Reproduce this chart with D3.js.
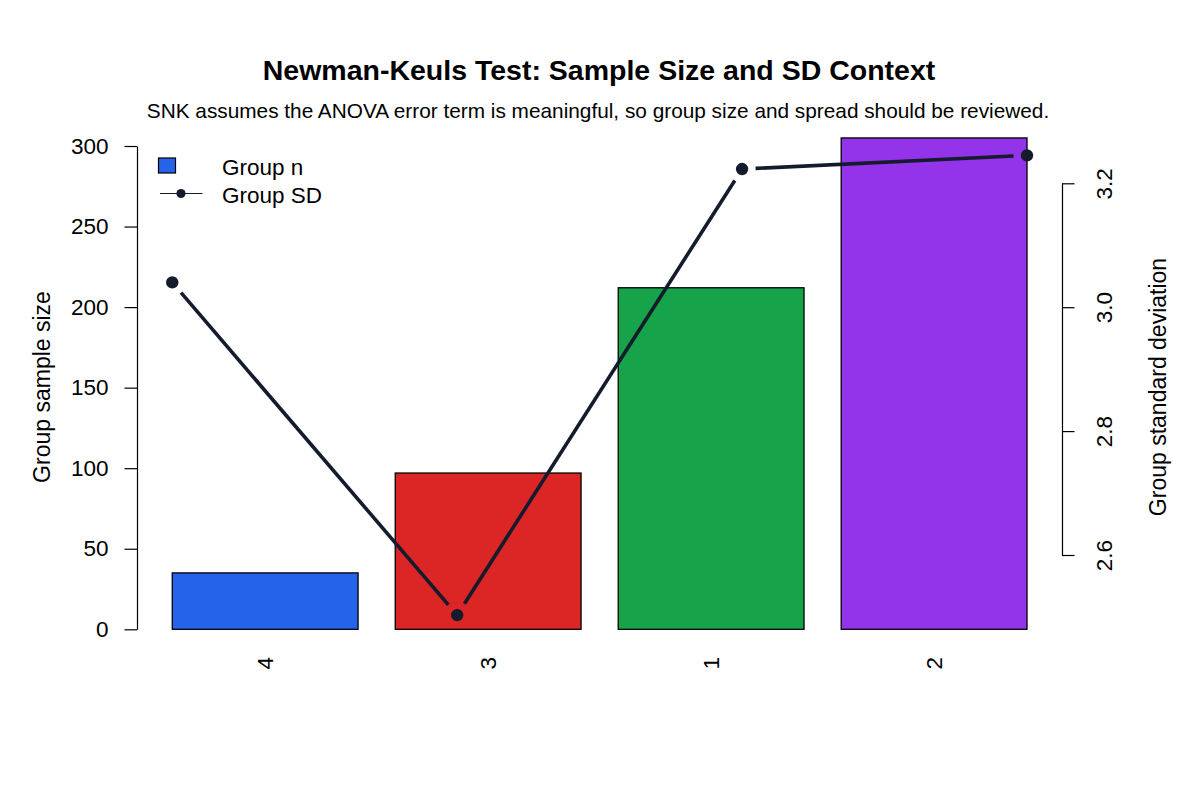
<!DOCTYPE html>
<html>
<head>
<meta charset="utf-8">
<script src="https://cdn.jsdelivr.net/npm/d3@7"></script>
<style>
  body { margin: 0; background: #fff; }
  text { font-family: "Liberation Sans", Arial, sans-serif; fill: #000; }
</style>
</head>
<body>
<div id="chart"></div>
<script>
// chart data, in plotting order
const groups = ["4", "3", "1", "2"];
const groupN = [35, 97, 212, 305];
const groupSD = [3.04, 2.503, 3.223, 3.245];
const barColors = ["#2563eb", "#dc2626", "#16a34a", "#9333ea"];
const nTicks = [0, 50, 100, 150, 200, 250, 300];
const sdTicks = [2.6, 2.8, 3.0, 3.2];

const width = 1200, height = 800;
const lineColor = "#141b2d";

const svg = d3.select("#chart").append("svg")
    .attr("width", width)
    .attr("height", height);

// barplot units: bar width 1, space 0.2
const xBar = d3.scaleLinear().domain([0, 4.8]).range([135.1, 1027]);
const yN = d3.scaleLinear().domain([0, 300]).range([629.3, 146]);
const ySD = d3.scaleLinear().domain([2.6, 3.2]).range([555, 183.3]);
// the SD line spans the full extent of the bars
const xLine = d3.scalePoint().domain(groups).range([xBar(0.2), xBar(4.8)]);
const barCenter = i => xBar(0.2 + 1.2 * i + 0.5);

// title and subtitle
svg.append("text")
    .attr("x", 599).attr("y", 80)
    .attr("text-anchor", "middle")
    .style("font-size", "28.5px").style("font-weight", "bold")
    .text("Newman-Keuls Test: Sample Size and SD Context");

svg.append("text")
    .attr("x", 598).attr("y", 118)
    .attr("text-anchor", "middle")
    .style("font-size", "20.8px")
    .text("SNK assumes the ANOVA error term is meaningful, so group size and spread should be reviewed.");

// bars
svg.append("g").selectAll("rect")
    .data(groupN)
    .join("rect")
    .attr("x", (d, i) => xBar(0.2 + 1.2 * i))
    .attr("width", xBar(1) - xBar(0))
    .attr("y", d => yN(d))
    .attr("height", d => yN(0) - yN(d))
    .attr("fill", (d, i) => barColors[i])
    .attr("stroke", "#000")
    .attr("stroke-width", 1.3);

// bar names, rotated
svg.append("g").selectAll("text")
    .data(groups)
    .join("text")
    .attr("transform", (d, i) => `translate(${barCenter(i) + 8},657) rotate(-90)`)
    .attr("text-anchor", "end")
    .style("font-size", "22.5px")
    .text(d => d);

// left axis
const leftAxis = svg.append("g")
    .attr("transform", "translate(137,0)")
    .call(d3.axisLeft(yN).tickValues(nTicks).tickSize(12.5).tickPadding(16).tickSizeOuter(0));
leftAxis.select(".domain").attr("stroke", "#000").attr("stroke-width", 1.2);
leftAxis.selectAll(".tick line").attr("stroke", "#000").attr("stroke-width", 1.2);
leftAxis.selectAll(".tick text")
    .style("font-size", "22.5px")
    .style("font-family", "'Liberation Sans', Arial, sans-serif");

svg.append("text")
    .attr("transform", "translate(50,387) rotate(-90)")
    .attr("text-anchor", "middle")
    .style("font-size", "23px")
    .text("Group sample size");

// right axis
const rightAxis = svg.append("g")
    .attr("transform", "translate(1062,0)")
    .call(d3.axisRight(ySD).tickValues(sdTicks).tickFormat(d3.format(".1f")).tickSize(12.5).tickSizeOuter(0));
rightAxis.select(".domain").attr("stroke", "#000").attr("stroke-width", 1.2);
rightAxis.selectAll(".tick line").attr("stroke", "#000").attr("stroke-width", 1.2);
rightAxis.selectAll(".tick text")
    .attr("x", null).attr("dy", null)
    .attr("transform", "translate(42,0) rotate(-90)")
    .attr("text-anchor", "middle")
    .attr("dominant-baseline", "central")
    .style("font-size", "22.5px")
    .style("font-family", "'Liberation Sans', Arial, sans-serif");

svg.append("text")
    .attr("transform", "translate(1166,387) rotate(-90)")
    .attr("text-anchor", "middle")
    .style("font-size", "23px")
    .text("Group standard deviation");

// SD line, R type "b": segments stop short of the points
const pts = groups.map((g, i) => [xLine(g), ySD(groupSD[i])]);
const gap = 13.5;
const segs = d3.pairs(pts).map(([a, b]) => {
    const dx = b[0] - a[0], dy = b[1] - a[1];
    const len = Math.hypot(dx, dy);
    const ux = dx / len, uy = dy / len;
    return [[a[0] + ux * gap, a[1] + uy * gap], [b[0] - ux * gap, b[1] - uy * gap]];
});

svg.append("g").selectAll("path")
    .data(segs)
    .join("path")
    .attr("d", d3.line())
    .attr("fill", "none")
    .attr("stroke", lineColor)
    .attr("stroke-width", 3.6);

svg.append("g").selectAll("circle")
    .data(pts)
    .join("circle")
    .attr("cx", d => d[0])
    .attr("cy", d => d[1])
    .attr("r", 6.2)
    .attr("fill", lineColor);

// legend
const legend = svg.append("g");
legend.append("rect")
    .attr("x", 158.5).attr("y", 158)
    .attr("width", 17).attr("height", 15)
    .attr("fill", barColors[0])
    .attr("stroke", "#000").attr("stroke-width", 1.2);
legend.append("line")
    .attr("x1", 160).attr("x2", 202.5)
    .attr("y1", 193.5).attr("y2", 193.5)
    .attr("stroke", lineColor).attr("stroke-width", 1.2);
legend.append("circle")
    .attr("cx", 181).attr("cy", 193.5).attr("r", 4.6)
    .attr("fill", lineColor);
legend.append("text")
    .attr("x", 222).attr("y", 175)
    .style("font-size", "22.5px")
    .text("Group n");
legend.append("text")
    .attr("x", 222).attr("y", 203)
    .style("font-size", "22.5px")
    .text("Group SD");
</script>
</body>
</html>
